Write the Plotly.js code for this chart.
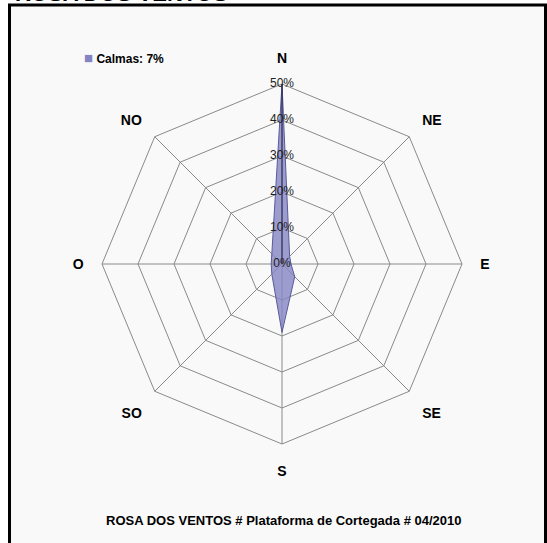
<!DOCTYPE html>
<html>
<head>
<meta charset="utf-8">
<script src="https://cdn.plot.ly/plotly-3.0.1.min.js"></script>
<style>
html,body{margin:0;padding:0;background:#fff;}
#chart{width:547px;height:543px;}
</style>
</head>
<body>
<div id="chart"></div>
<script>
// ---- data ----
var directions = ['N', 'NE', 'E', 'SE', 'S', 'SO', 'O', 'NO'];
var frequency = [50, 3, 2.5, 5, 19, 4, 3, 4];   // % of observations per direction
var ringValues = [0, 10, 20, 30, 40, 50];        // radial tick values (%)
var calmas = 7;                                  // % calms
var chartTitle = 'ROSA DOS VENTOS';
var caption = 'ROSA DOS VENTOS # Plataforma de Cortegada # 04/2010';

// ---- layout geometry ----
var W = 547, H = 543;
var cx = 282, cy = 264, R = 180;
var rMax = ringValues[ringValues.length - 1];

var closedTheta = directions.concat([directions[0]]);
var closedR = frequency.concat([frequency[0]]);

var traces = [
  {
    type: 'scatterpolar',
    subplot: 'polar',
    r: closedR,
    theta: closedTheta,
    mode: 'lines',
    fill: 'toself',
    fillcolor: 'rgba(132,132,196,0.8)',
    line: {color: '#5a5a9a', width: 1},
    hoverinfo: 'skip',
    showlegend: false
  },
  {
    type: 'scatterpolar',
    subplot: 'polar2',
    r: ringValues,
    theta: ringValues.map(function(){ return directions[0]; }),
    mode: 'text',
    text: ringValues.map(function(v){ return v + '%'; }),
    textposition: 'middle center',
    textfont: {family: 'Liberation Sans, Arial, sans-serif', size: 12, color: '#222'},
    hoverinfo: 'skip',
    showlegend: false
  }
];

var dom = {x: [(cx - R) / W, (cx + R) / W], y: [1 - (cy + R) / H, 1 - (cy - R) / H]};

var layout = {
  width: W, height: H,
  margin: {l: 0, r: 0, t: 0, b: 0},
  paper_bgcolor: '#ffffff',
  showlegend: false,
  polar: {
    domain: dom,
    gridshape: 'linear',
    bgcolor: '#f8f9f8',
    angularaxis: {
      type: 'category',
      categoryorder: 'array',
      categoryarray: directions,
      rotation: 90,
      direction: 'clockwise',
      showline: true,
      linecolor: '#8a8a8a',
      linewidth: 1,
      showgrid: true,
      gridcolor: '#8a8a8a',
      gridwidth: 1,
      ticks: 'outside',
      ticklen: 15,
      tickcolor: 'rgba(0,0,0,0)',
      tickfont: {family: 'Liberation Sans, Arial, sans-serif', size: 14, color: '#000', weight: 'bold'}
    },
    radialaxis: {
      angle: 90,
      range: [0, rMax],
      tickvals: ringValues,
      showticklabels: false,
      ticks: '',
      showgrid: true,
      gridcolor: '#8a8a8a',
      gridwidth: 1,
      showline: true,
      linecolor: '#1a1a3a',
      linewidth: 1,
      layer: 'above traces'
    }
  },
  polar2: {
    domain: dom,
    bgcolor: 'rgba(0,0,0,0)',
    angularaxis: {
      type: 'category',
      categoryorder: 'array',
      categoryarray: directions,
      rotation: 90,
      direction: 'clockwise',
      showline: false, showgrid: false, showticklabels: false, ticks: ''
    },
    radialaxis: {
      angle: 90,
      range: [0, rMax],
      showline: false, showgrid: false, showticklabels: false, ticks: ''
    }
  },
  shapes: [
    {type: 'rect', xref: 'paper', yref: 'paper', x0: 9.5 / W, x1: 545.5 / W, y0: -0.02, y1: 1 - 5 / H,
     line: {color: '#000', width: 3}, fillcolor: '#f8f9f8', layer: 'below'}
  ],
  annotations: [
    {xref: 'paper', yref: 'paper', x: 13 / W, y: 1, xanchor: 'left', yanchor: 'bottom', yshift: -8,
     text: '<b>' + chartTitle + '</b>', showarrow: false,
     font: {family: 'Liberation Sans, Arial, sans-serif', size: 22, color: '#000'}},
    {xref: 'paper', yref: 'paper', x: 82 / W, y: 1 - 58 / H, xanchor: 'left', yanchor: 'middle',
     text: '<span style="color:#8484c4;font-size:15px">■</span> <b>Calmas: ' + calmas + '%</b>', showarrow: false,
     font: {family: 'Liberation Sans, Arial, sans-serif', size: 12, color: '#000'}},
    {xref: 'paper', yref: 'paper', x: 284 / W, y: 1 - 520 / H, xanchor: 'center', yanchor: 'middle',
     text: '<b>' + caption + '</b>', showarrow: false,
     font: {family: 'Liberation Sans Narrow, Liberation Sans, Arial, sans-serif', size: 13, color: '#000'}}
  ]
};

Plotly.newPlot('chart', traces, layout, {displayModeBar: false, staticPlot: true});
</script>
</body>
</html>
